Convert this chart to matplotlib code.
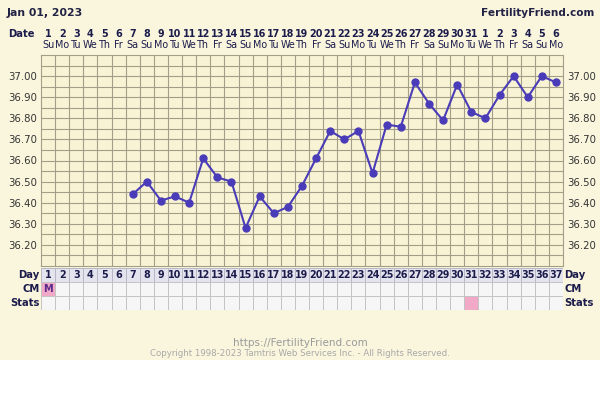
import numpy as np
import matplotlib.pyplot as plt
from matplotlib.patches import Rectangle

# cycle days and temperatures (days 7..37 recorded)
days = list(range(7, 38))
temps = [36.44, 36.50, 36.41, 36.43, 36.40, 36.61, 36.52, 36.50, 36.28, 36.43,
         36.35, 36.38, 36.48, 36.61, 36.74, 36.70, 36.74, 36.54, 36.77, 36.76,
         36.97, 36.87, 36.79, 36.96, 36.83, 36.80, 36.91, 37.00, 36.90, 37.00,
         36.97]

date_nums = [str(d) for d in range(1, 32)] + [str(d) for d in range(1, 7)]
weekdays = ['Su', 'Mo', 'Tu', 'We', 'Th', 'Fr', 'Sa'] * 6
weekdays = weekdays[:37]
yticks = [36.20, 36.30, 36.40, 36.50, 36.60, 36.70, 36.80, 36.90, 37.00]
cm_days = [1]
cm_marks = ['M']
stats_days = [31]

n_days = 37
cream = '#faf6dd'
plot_bg = '#f8f3d4'
grid_col = '#a29e88'
navy = '#1c1c4c'

W, H = 600, 396
fig = plt.figure(figsize=(6, 3.96), dpi=100, facecolor='white')
fig.patches.append(Rectangle((0, 1 - 360 / H), 1, 360 / H, transform=fig.transFigure,
                             facecolor=cream, edgecolor='none', zorder=-10))


def box(l, t, r, b):
    return [l / W, 1 - b / H, (r - l) / W, (b - t) / H]


# main chart
ax = fig.add_axes(box(41, 55, 563, 266))
ax.set_facecolor(plot_bg)
ax.set_xlim(0.5, n_days + 0.5)
ax.set_ylim(36.10, 37.10)
ax.set_xticks([])
ax.set_yticks(yticks)
ax.set_yticklabels(['%.2f' % v for v in yticks])
for x in np.arange(1.5, n_days, 1):
    ax.axvline(x, color=grid_col, linewidth=0.8, zorder=1)
for y in np.arange(36.15, 37.09, 0.05):
    ax.axhline(y, color=grid_col, linewidth=0.8, zorder=1)
ax.tick_params(which='both', length=0, labelsize=7.3, labelcolor='#333333', pad=3,
               labelright=True)
for s in ax.spines.values():
    s.set_color(grid_col)
    s.set_linewidth(0.8)
ax.plot(days, temps, color='#4a3cb8', linewidth=1.5, marker='o', markersize=5, zorder=3)

# header texts
tr = ax.get_xaxis_transform()
for i in range(n_days):
    ax.text(i + 1, 1 + 21 / 211, date_nums[i], transform=tr, ha='center', va='center',
            fontsize=6.9, fontweight='bold', color=navy)
    ax.text(i + 1, 1 + 10 / 211, weekdays[i], transform=tr, ha='center', va='center',
            fontsize=6.9, color=navy)
fig.text(35 / W, 1 - 34 / H, 'Date', ha='right', va='center', fontsize=7.2,
         fontweight='bold', color=navy)
fig.text(7 / W, 1 - 13 / H, 'Jan 01, 2023', ha='left', va='center', fontsize=7.8,
         fontweight='bold', color='#222244')
fig.text(594 / W, 1 - 13 / H, 'FertilityFriend.com', ha='right', va='center', fontsize=7.6,
         fontweight='bold', color='#222244')

# bottom table: Day / CM / Stats
tab = fig.add_axes(box(41, 268, 563, 310))
tab.set_xlim(0.5, n_days + 0.5)
tab.set_ylim(0, 3)
tab.axis('off')
for i in range(1, n_days + 1):
    tab.add_patch(Rectangle((i - 0.5, 2), 1, 1, facecolor='#e4e4ee', edgecolor='#b8b8c4',
                            linewidth=0.7))
    tab.text(i, 2.5, str(i), ha='center', va='center', fontsize=6.9, fontweight='bold',
             color=navy)
    fc = '#f2a9c8' if i in cm_days else '#f6f6f6'
    tab.add_patch(Rectangle((i - 0.5, 1), 1, 1, facecolor=fc, edgecolor='#c4c4c4',
                            linewidth=0.7))
    fc = '#f2a9c8' if i in stats_days else '#f6f6f6'
    tab.add_patch(Rectangle((i - 0.5, 0), 1, 1, facecolor=fc, edgecolor='#c4c4c4',
                            linewidth=0.7))
for d, m in zip(cm_days, cm_marks):
    tab.text(d, 1.5, m, ha='center', va='center', fontsize=7, fontweight='bold',
             color='#5a2a8a')
for k, lab in enumerate(['Day', 'CM', 'Stats']):
    tab.text(0.4, 2.5 - k, lab, ha='right', va='center', fontsize=7.2, fontweight='bold',
             color=navy)
    tab.text(n_days + 0.6, 2.5 - k, lab, ha='left', va='center', fontsize=7.2,
             fontweight='bold', color=navy)

# footer
fig.text(0.5, 1 - 343 / H, 'https://FertilityFriend.com', ha='center', va='center',
         fontsize=7.5, color='#9a9a9a')
fig.text(0.5, 1 - 353 / H, 'Copyright 1998-2023 Tamtris Web Services Inc. - All Rights Reserved.',
         ha='center', va='center', fontsize=6.2, color='#a8a8a8')

fig.savefig('out.png', dpi=100, facecolor=fig.get_facecolor())
